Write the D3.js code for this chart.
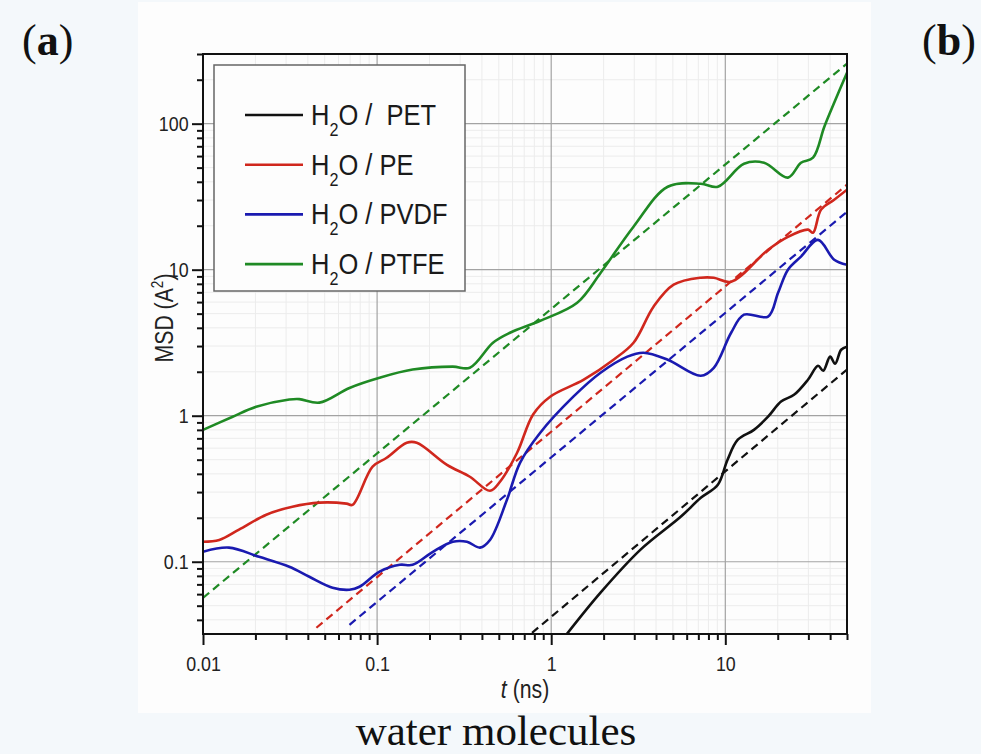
<!DOCTYPE html>
<html>
<head>
<meta charset="utf-8">
<script src="https://cdn.jsdelivr.net/npm/d3@7"></script>
<style>
  html, body { margin: 0; padding: 0; background: #f4f8fb; }
  svg { display: block; }
  .sans { font-family: "Liberation Sans", Arial, sans-serif; }
</style>
</head>
<body>
<svg width="981" height="754"></svg>
<script>
'use strict';

// tick labels
var xMajor = [0.01, 0.1, 1, 10];
var xLabels = ['0.01', '0.1', '1', '10'];
var yMajor = [0.1, 1, 10, 100];
var yLabels = ['0.1', '1', '10', '100'];

var seriesNames = ['H2O /  PET', 'H2O / PE', 'H2O / PVDF', 'H2O / PTFE'];
var seriesColors = ['#111111', '#d0271d', '#1a1ab0', '#1f8a24'];

// MSD curves (t in ns, MSD in A^2)
var tPET = [1.22, 1.92, 3.26, 5.54, 7.23, 9.06, 10.3, 11.8, 14.6, 17.6, 20.9, 24.8, 29.9, 34.1, 36.5, 40.0, 42.7, 46.3, 50];
var msdPET = [0.0316, 0.0614, 0.121, 0.203, 0.274, 0.337, 0.50, 0.685, 0.80, 0.985, 1.25, 1.39, 1.77, 2.20, 2.03, 2.54, 2.27, 2.83, 2.97];

var tPE = [0.01, 0.0124, 0.0161, 0.0231, 0.0326, 0.0466, 0.0667, 0.0722, 0.0942, 0.1135, 0.148, 0.169, 0.252, 0.341, 0.445, 0.508, 0.637, 0.787, 0.986, 1.53, 2.28, 2.97, 3.87, 5.05, 7.23, 8.59, 10.8, 17.6, 22.9, 29.9, 31.9, 35.5, 42.2, 50];
var msdPE = [0.137, 0.141, 0.166, 0.210, 0.238, 0.254, 0.250, 0.245, 0.448, 0.515, 0.653, 0.653, 0.461, 0.382, 0.306, 0.353, 0.558, 1.02, 1.35, 1.76, 2.42, 3.16, 5.58, 7.89, 8.81, 8.81, 8.27, 13.7, 16.8, 18.8, 17.9, 25.8, 30.1, 35.3];

var tPVDF = [0.01, 0.0141, 0.021, 0.0313, 0.0408, 0.0555, 0.0694, 0.0793, 0.1033, 0.135, 0.160, 0.209, 0.272, 0.328, 0.390, 0.445, 0.557, 0.662, 0.865, 1.34, 1.92, 2.74, 3.39, 4.67, 7.23, 8.59, 10.8, 12.8, 17.6, 20.1, 22.9, 27.2, 34.1, 42.2, 50];
var msdPVDF = [0.117, 0.125, 0.108, 0.0924, 0.0789, 0.0664, 0.0643, 0.0674, 0.0855, 0.0953, 0.0953, 0.117, 0.137, 0.137, 0.125, 0.141, 0.266, 0.476, 0.765, 1.35, 1.97, 2.54, 2.70, 2.42, 1.88, 2.13, 3.70, 4.92, 4.77, 6.95, 10.0, 12.3, 16.0, 11.7, 10.8];

var tPTFE = [0.01, 0.0147, 0.0202, 0.0313, 0.0357, 0.0466, 0.0694, 0.1033, 0.160, 0.272, 0.341, 0.463, 0.580, 0.865, 1.41, 1.92, 2.97, 4.67, 7.23, 9.06, 12.8, 16.7, 22.9, 27.2, 31.9, 37.0, 42.2, 50];
var msdPTFE = [0.80, 0.98, 1.15, 1.29, 1.30, 1.23, 1.55, 1.82, 2.07, 2.17, 2.13, 3.16, 3.70, 4.47, 5.94, 9.5, 19.7, 37, 38.8, 37, 53.2, 54, 42.7, 54, 58.5, 95, 139, 223];

// linear fits (dashed), start / end points
var fitT = [[0.776, 50], [0.0448, 50], [0.0694, 50], [0.01, 50]];
var fitMSD = [[0.0326, 2.07], [0.0353, 38.2], [0.037, 24.9], [0.0566, 258]];

var curveT = [tPET, tPE, tPVDF, tPTFE];
var curveMSD = [msdPET, msdPE, msdPVDF, msdPTFE];

var PLOT = { left: 203, right: 847, top: 54, bottom: 634 };
var SQUEEZE = 0.85;   // the figure uses a narrow sans face

var svg = d3.select('svg');

// picture background (white area of figure)
svg.append('rect')
    .attr('x', 138).attr('y', 2)
    .attr('width', 733).attr('height', 711)
    .attr('fill', '#fdfdfd');

var x = d3.scaleLog()
    .domain([0.01, 50])
    .range([PLOT.left, PLOT.right]);

var y = d3.scaleLog()
    .domain([0.032, 300])
    .range([PLOT.bottom, PLOT.top]);

var xMinor = x.ticks().filter(function(d) { return xMajor.indexOf(+d.toPrecision(3)) < 0; });
var yMinor = y.ticks().filter(function(d) { return yMajor.indexOf(+d.toPrecision(3)) < 0; });

// grid
var grid = svg.append('g');
grid.selectAll('.xminor').data(xMinor).enter().append('line')
    .attr('x1', function(d) { return x(d); }).attr('x2', function(d) { return x(d); })
    .attr('y1', PLOT.top).attr('y2', PLOT.bottom)
    .attr('stroke', '#ececec').attr('stroke-width', 1);
grid.selectAll('.yminor').data(yMinor).enter().append('line')
    .attr('y1', function(d) { return y(d); }).attr('y2', function(d) { return y(d); })
    .attr('x1', PLOT.left).attr('x2', PLOT.right)
    .attr('stroke', '#ececec').attr('stroke-width', 1);
grid.selectAll('.xmajor').data(xMajor).enter().append('line')
    .attr('x1', function(d) { return x(d); }).attr('x2', function(d) { return x(d); })
    .attr('y1', PLOT.top).attr('y2', PLOT.bottom)
    .attr('stroke', '#a3a3a3').attr('stroke-width', 1.2);
grid.selectAll('.ymajor').data(yMajor).enter().append('line')
    .attr('y1', function(d) { return y(d); }).attr('y2', function(d) { return y(d); })
    .attr('x1', PLOT.left).attr('x2', PLOT.right)
    .attr('stroke', '#a3a3a3').attr('stroke-width', 1.2);

// clip
svg.append('clipPath').attr('id', 'plotclip')
    .append('rect')
    .attr('x', PLOT.left).attr('y', PLOT.top)
    .attr('width', PLOT.right - PLOT.left).attr('height', PLOT.bottom - PLOT.top);

var plot = svg.append('g').attr('clip-path', 'url(#plotclip)');

var line = d3.line()
    .x(function(d) { return x(d[0]); })
    .y(function(d) { return y(d[1]); })
    .curve(d3.curveCatmullRom.alpha(0.5));

fitT.forEach(function(ts, i) {
    plot.append('path')
        .datum(d3.zip(ts, fitMSD[i]))
        .attr('d', d3.line().x(function(d) { return x(d[0]); }).y(function(d) { return y(d[1]); }))
        .attr('fill', 'none')
        .attr('stroke', seriesColors[i])
        .attr('stroke-width', 2.2)
        .attr('stroke-dasharray', '8,5');
});

curveT.forEach(function(ts, i) {
    plot.append('path')
        .datum(d3.zip(ts, curveMSD[i]))
        .attr('d', line)
        .attr('fill', 'none')
        .attr('stroke', seriesColors[i])
        .attr('stroke-width', 2.6)
        .attr('stroke-linejoin', 'round');
});

// axes
function styleAxis(g) {
    g.select('.domain').remove();
    g.selectAll('line').attr('stroke', '#111').attr('stroke-width', 2);
    g.selectAll('text')
        .attr('class', 'sans')
        .attr('fill', '#222')
        .attr('transform', 'scale(' + SQUEEZE + ',1)')
        .style('font-size', '21px');
}

svg.append('g')
    .attr('transform', 'translate(0,' + PLOT.bottom + ')')
    .call(d3.axisBottom(x).tickValues(xMinor).tickSize(6).tickFormat(''))
    .call(styleAxis);
svg.append('g')
    .attr('transform', 'translate(0,' + PLOT.bottom + ')')
    .call(d3.axisBottom(x).tickValues(xMajor).tickSize(11).tickPadding(11)
        .tickFormat(function(d, i) { return xLabels[i]; }))
    .call(styleAxis);

svg.append('g')
    .attr('transform', 'translate(' + PLOT.left + ',0)')
    .call(d3.axisLeft(y).tickValues(yMinor).tickSize(6).tickFormat(''))
    .call(styleAxis);
svg.append('g')
    .attr('transform', 'translate(' + PLOT.left + ',0)')
    .call(d3.axisLeft(y).tickValues(yMajor).tickSize(11).tickPadding(6)
        .tickFormat(function(d, i) { return yLabels[i]; }))
    .call(styleAxis);

// frame
svg.append('rect')
    .attr('x', PLOT.left).attr('y', PLOT.top)
    .attr('width', PLOT.right - PLOT.left).attr('height', PLOT.bottom - PLOT.top)
    .attr('fill', 'none').attr('stroke', '#111').attr('stroke-width', 2);

// legend
var legend = svg.append('g');
legend.append('rect')
    .attr('x', 214).attr('y', 65).attr('width', 251).attr('height', 226)
    .attr('fill', '#fdfdfd').attr('stroke', '#666').attr('stroke-width', 1.5);

seriesNames.forEach(function(name, i) {
    var ly = 115 + i * 49.7;
    legend.append('line')
        .attr('x1', 245).attr('x2', 303).attr('y1', ly).attr('y2', ly)
        .attr('stroke', seriesColors[i]).attr('stroke-width', 2.6);
    var txt = legend.append('text')
        .attr('class', 'sans')
        .attr('transform', 'translate(311,' + (ly + 10) + ') scale(' + SQUEEZE + ',1)')
        .attr('fill', '#1a1a1a')
        .style('font-size', '30px')
        .style('white-space', 'pre');
    txt.append('tspan').text('H');
    txt.append('tspan').attr('dy', 11).style('font-size', '19px').text('2');
    txt.append('tspan').attr('dy', -11).text(name.slice(2));
});

// axis titles
var ytitle = svg.append('text')
    .attr('class', 'sans')
    .attr('transform', 'translate(173,318) rotate(-90) scale(' + SQUEEZE + ',1)')
    .attr('text-anchor', 'middle')
    .attr('fill', '#222')
    .style('font-size', '25px');
ytitle.append('tspan').text('MSD (A');
ytitle.append('tspan').attr('dy', -10).style('font-size', '16px').text('2');
ytitle.append('tspan').attr('dy', 10).text(')');

var xtitle = svg.append('text')
    .attr('class', 'sans')
    .attr('transform', 'translate(' + (PLOT.left + PLOT.right) / 2 + ',698) scale(' + SQUEEZE + ',1)')
    .attr('text-anchor', 'middle')
    .attr('fill', '#222')
    .style('font-size', '25px');
xtitle.append('tspan').style('font-style', 'italic').text('t');
xtitle.append('tspan').text(' (ns)');

// panel labels and caption
svg.append('text')
    .attr('x', 496).attr('y', 745)
    .attr('text-anchor', 'middle')
    .attr('fill', '#111')
    .style('font-family', '"Liberation Serif", "DejaVu Serif", serif')
    .style('font-size', '43px')
    .text('water molecules');

[['(a)', 22], ['(b)', 922]].forEach(function(p) {
    var t = svg.append('text')
        .attr('x', p[1]).attr('y', 55)
        .attr('fill', '#111')
        .style('font-family', '"Liberation Serif", "DejaVu Serif", serif')
        .style('font-size', '44px');
    t.append('tspan').text('(');
    t.append('tspan').style('font-weight', 'bold').text(p[0].slice(1, 2));
    t.append('tspan').text(')');
});
</script>
</body>
</html>
